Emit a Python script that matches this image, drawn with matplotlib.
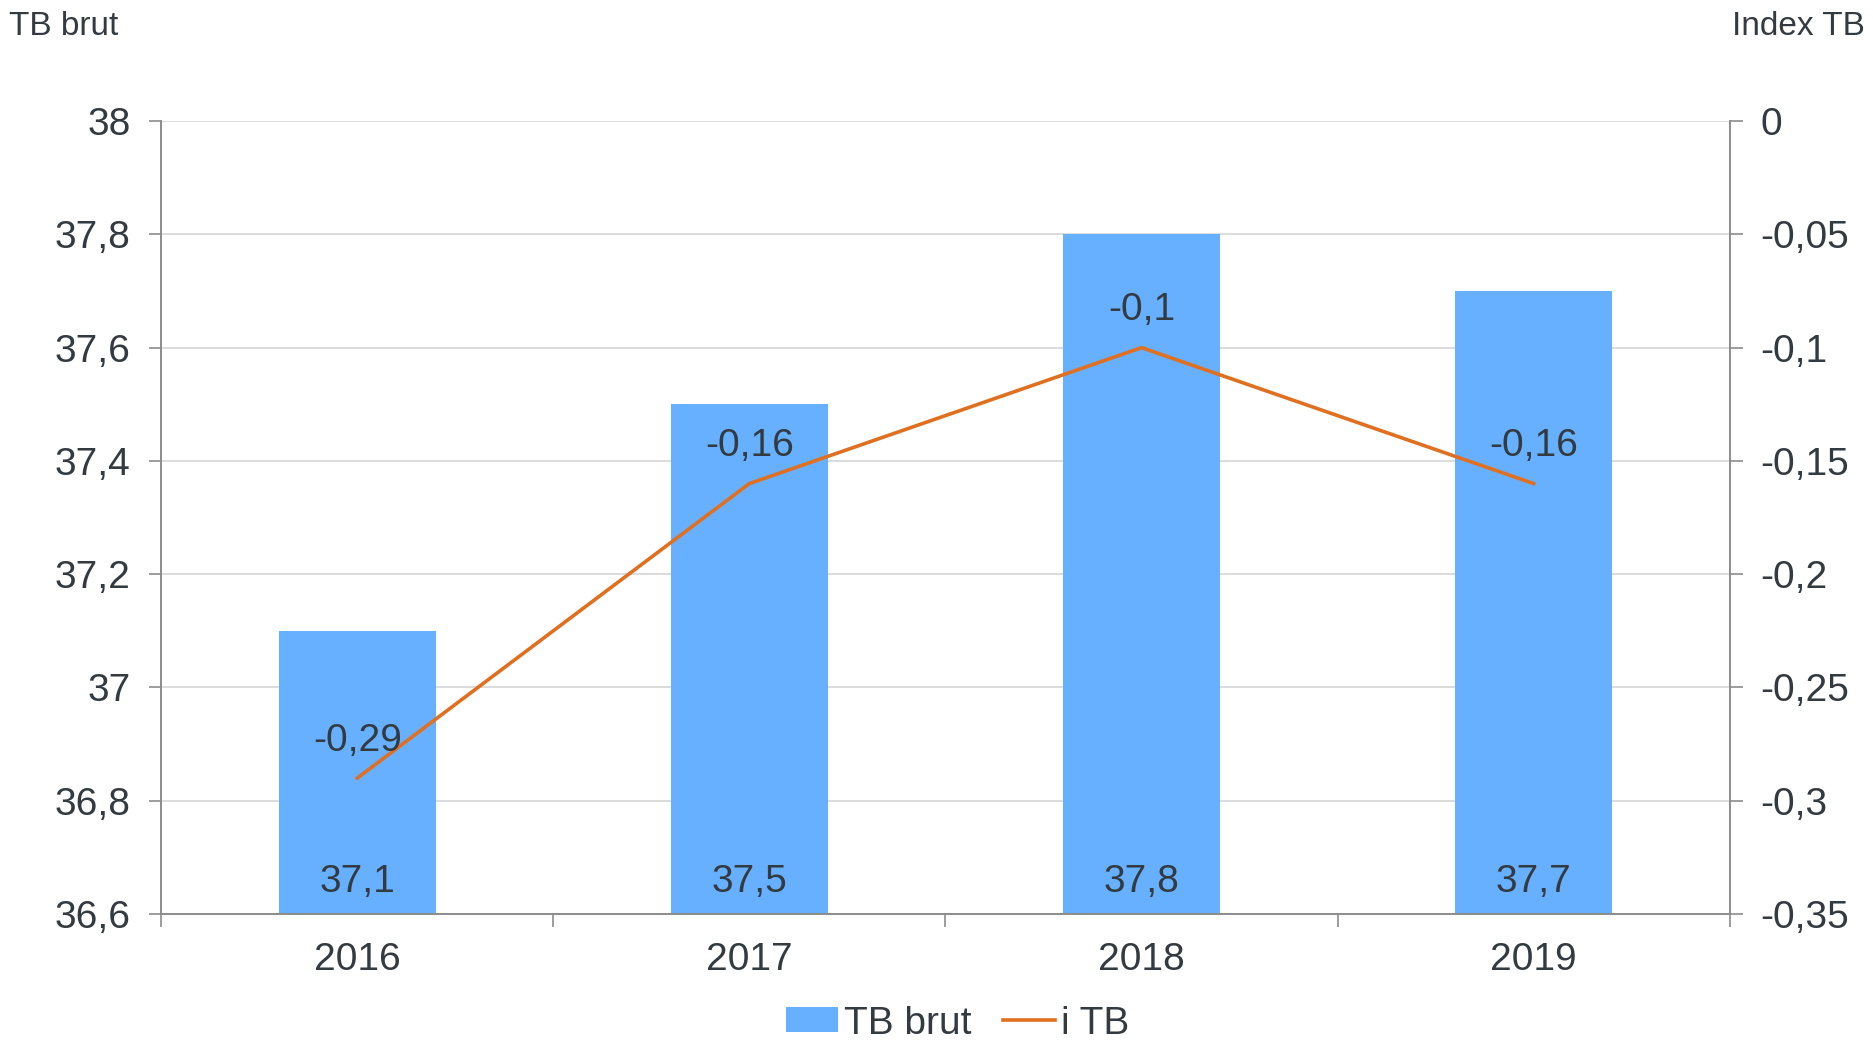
import matplotlib.pyplot as plt
import numpy as np

plt.rcParams['font.family'] = ['Liberation Sans', 'DejaVu Sans']

years = ["2016", "2017", "2018", "2019"]
tb_brut = [37.1, 37.5, 37.8, 37.7]
index_tb = [-0.29, -0.16, -0.1, -0.16]

txt = "#333a40"
bar_col = "#66b0ff"
line_col = "#e07020"
grid_col = "#d9d9d9"
axis_col = "#8c8c8c"

def fr(v):
    v = round(v, 2)
    if v == 0:
        return "0"
    return ("%g" % v).replace(".", ",")

fig = plt.figure(figsize=(18.74, 10.53), dpi=100)
ax = fig.add_axes([0.086, 0.132, 0.837, 0.753])
ax2 = ax.twinx()

x = np.arange(len(years))
bars = ax.bar(x, tb_brut, width=0.4, color=bar_col, zorder=2, label="TB brut")
ax.set_ylim(36.6, 38)
ax.set_yticks(np.arange(36.6, 38.01, 0.2))
ax.set_yticklabels([fr(round(v, 1)) for v in np.arange(36.6, 38.01, 0.2)])
ax.set_xlim(-0.5, len(years) - 0.5)
ax.set_xticks(x)
ax.set_xticklabels(years)
ax.set_xticks(np.arange(-0.5, len(years), 1), minor=True)
ax.tick_params(axis="x", which="major", length=0, pad=20, labelsize=28, labelcolor=txt)
ax.tick_params(axis="x", which="minor", length=9, color=axis_col, width=1.2)
ax.tick_params(axis="y", length=9, color=axis_col, width=1.2, pad=13, labelsize=28, labelcolor=txt)
ax.yaxis.grid(True, color=grid_col, linewidth=1.3, zorder=0)
ax.set_axisbelow(True)

for xi, v in zip(x, tb_brut):
    ax.annotate(fr(v), (xi, 36.6), xytext=(0, 23), textcoords="offset points",
                ha="center", va="center", fontsize=28, color=txt, zorder=4)

line, = ax2.plot(x, index_tb, color=line_col, linewidth=2.6, zorder=3, label="i TB")
ax2.set_ylim(-0.35, 0)
ax2.set_yticks(np.arange(-0.35, 0.001, 0.05))
ax2.set_yticklabels([fr(v) for v in np.arange(-0.35, 0.001, 0.05)])
ax2.tick_params(axis="y", length=9, color=axis_col, width=1.2, pad=13, labelsize=28, labelcolor=txt)

for xi, v in zip(x, index_tb):
    ax2.annotate(fr(v), (xi, v), xytext=(0, 27), textcoords="offset points",
                 ha="center", va="center", fontsize=28, color=txt)

for a in (ax, ax2):
    a.spines["top"].set_visible(False)
    for s in ("left", "right", "bottom"):
        a.spines[s].set_color(axis_col)
        a.spines[s].set_linewidth(1.2)

fig.text(0.005, 0.975, "TB brut", fontsize=24, color=txt, ha="left", va="center")
fig.text(0.995, 0.975, "Index TB", fontsize=24, color=txt, ha="right", va="center")

fig.legend([bars, line], ["TB brut", "i TB"], loc="center", bbox_to_anchor=(0.511, 0.028),
           ncol=2, frameon=False, fontsize=28, labelcolor=txt, handlelength=1.35,
           handleheight=0.6, handletextpad=0.15, columnspacing=0.8)

fig.savefig("out.png", dpi=100)
